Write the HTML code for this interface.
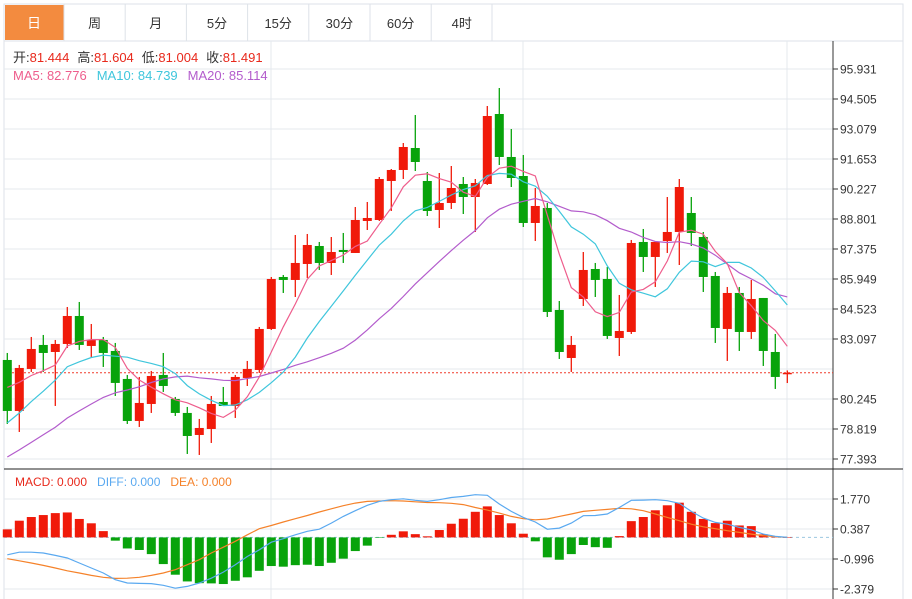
<!DOCTYPE html>
<html><head><meta charset="utf-8">
<style>
body{margin:0;background:#fff;width:912px;height:599px;overflow:hidden;font-family:"Liberation Sans","Noto Sans CJK SC",sans-serif;}
svg{display:block}
</style></head><body>
<svg id="c" width="912" height="599" xmlns="http://www.w3.org/2000/svg">
<g id="tabs">
<rect x="4" y="4" width="899" height="37" fill="#fff" stroke="#dde2e8"/>
<rect x="5" y="5" width="59" height="35" fill="#f38b3f"/>
<text x="34" y="28" font-size="14" fill="#fff" text-anchor="middle">日</text>
</g>
<g id="grid"></g>
<g id="main"></g>
<g id="macd"></g>
<g id="hdr" font-size="13">
<text x="13" y="62"><tspan fill="#333">开:</tspan><tspan fill="#e8291c">81.444</tspan><tspan fill="#333" dx="8">高:</tspan><tspan fill="#e8291c">81.604</tspan><tspan fill="#333" dx="8">低:</tspan><tspan fill="#e8291c">81.004</tspan><tspan fill="#333" dx="8">收:</tspan><tspan fill="#e8291c">81.491</tspan></text>
<text x="13" y="80"><tspan fill="#ee5d8c">MA5: 82.776</tspan><tspan fill="#3fc6dc" dx="10">MA10: 84.739</tspan><tspan fill="#b35ccc" dx="10">MA20: 85.114</tspan></text>
<text x="15" y="486" font-size="12"><tspan fill="#e8291c">MACD: 0.000</tspan><tspan fill="#5aa9f0" dx="10">DIFF: 0.000</tspan><tspan fill="#f5822a" dx="10">DEA: 0.000</tspan></text>
</g>
</svg>
<script>
const tabLabels=["周","月","5分","15分","30分","60分","4时"];
const priorCloses=[75,75.5,75.2,75.6,75.5,76,76.5,76.2,76.6,76.6,77,77.2,77.5,77.6,77.8,80.5,81,81.3,81.5];
const opens=[82.100,79.677,81.673,82.814,82.480,82.861,84.191,82.766,83.051,82.528,81.198,79.201,80.009,81.388,80.247,79.582,78.535,78.820,80.104,79.914,81.245,81.625,83.574,86.045,85.903,86.663,87.518,86.711,87.329,87.186,88.707,88.754,90.608,91.131,92.176,90.608,89.230,89.562,90.465,89.847,90.465,93.792,91.749,90.845,88.612,89.325,84.477,82.195,84.999,86.425,85.950,83.146,83.431,87.709,86.996,87.756,88.184,89.087,87.946,86.093,83.574,85.285,83.431,85.047,82.480,81.444];
const highs=[82.433,81.863,83.194,83.289,83.051,84.619,84.857,83.811,83.194,82.909,81.388,81.293,81.578,82.433,80.342,79.867,79.297,80.389,80.817,81.388,82.053,83.669,86.045,86.140,88.041,88.089,87.709,87.946,88.137,89.372,89.610,90.798,91.178,92.414,93.745,91.036,90.988,91.321,90.798,90.703,94.172,95.028,93.079,91.844,90.275,89.562,84.904,83.241,87.233,86.711,86.520,85.190,87.804,88.327,87.709,89.847,90.703,89.847,88.184,86.283,85.570,85.570,85.903,85.047,83.336,81.604];
const lows=[79.059,78.678,81.530,81.530,79.914,82.671,82.576,82.195,81.768,80.389,79.059,78.916,79.582,80.580,79.439,77.632,77.585,78.155,79.914,79.344,80.864,81.483,83.526,85.285,85.094,85.998,86.378,86.140,86.711,87.186,88.279,88.707,89.182,90.703,91.083,88.944,88.374,89.277,89.039,88.184,90.418,91.368,90.322,88.421,87.756,84.144,82.148,81.530,84.667,85.094,83.099,82.290,83.336,86.283,85.570,87.186,86.615,87.518,85.332,82.909,82.053,82.528,83.099,81.815,80.722,81.004];
const closes=[79.677,81.720,82.623,82.433,82.861,84.191,82.814,83.051,82.433,81.008,79.201,80.057,81.340,80.864,79.582,78.487,78.868,80.009,79.914,81.293,81.673,83.574,85.950,85.903,86.711,87.566,86.711,87.233,87.233,88.754,88.849,90.703,91.131,92.224,91.511,89.182,89.562,90.275,89.847,90.513,93.697,91.749,90.750,88.612,89.420,84.382,82.480,82.814,86.378,85.903,83.241,83.479,87.661,86.996,87.709,88.184,90.322,88.137,86.045,83.621,85.285,83.431,84.999,82.528,81.293,81.491];
const priceTicks=[95.931,94.505,93.079,91.653,90.227,88.801,87.375,85.949,84.523,83.097,80.245,78.819,77.393];
const macdHist=[0.37,0.77,0.94,1.03,1.12,1.15,0.85,0.65,0.29,-0.15,-0.51,-0.58,-0.77,-1.23,-1.72,-2.03,-2.11,-2.12,-2.15,-2.0,-1.84,-1.54,-1.32,-1.35,-1.28,-1.26,-1.32,-1.17,-0.98,-0.63,-0.38,-0.02,0.12,0.28,0.15,0.05,0.34,0.63,0.86,1.18,1.43,1.03,0.65,0.17,-0.18,-0.92,-1.03,-0.77,-0.35,-0.45,-0.48,0.06,0.75,0.94,1.25,1.48,1.6,1.18,0.85,0.66,0.77,0.55,0.52,0.14,0.03,0];
const diffVals=[-0.80,-0.68,-0.68,-0.72,-0.83,-0.95,-1.18,-1.41,-1.64,-1.95,-2.1,-2.12,-2.13,-2.21,-2.34,-2.26,-2.1,-1.88,-1.6,-1.26,-0.88,-0.57,-0.22,-0.06,0.12,0.28,0.38,0.66,0.97,1.23,1.48,1.66,1.74,1.78,1.71,1.66,1.74,1.84,1.89,1.97,1.94,1.54,1.2,0.92,0.71,0.38,0.43,0.66,1.0,1.01,1.08,1.38,1.71,1.72,1.74,1.69,1.57,1.2,0.89,0.69,0.61,0.46,0.35,0.15,0.05,0];
const deaVals=[-0.98,-1.08,-1.18,-1.29,-1.41,-1.54,-1.64,-1.75,-1.84,-1.89,-1.88,-1.84,-1.75,-1.64,-1.49,-1.26,-1.03,-0.72,-0.45,-0.18,0.12,0.40,0.55,0.71,0.86,1.01,1.17,1.32,1.46,1.58,1.66,1.68,1.69,1.68,1.64,1.61,1.60,1.57,1.51,1.38,1.26,1.12,0.97,0.86,0.81,0.85,0.97,1.08,1.2,1.25,1.29,1.34,1.32,1.23,1.08,0.92,0.77,0.61,0.49,0.4,0.31,0.23,0.15,0.08,0.03,0];
const macdTicks=[1.770,0.387,-0.996,-2.379];
const lastPrice=81.491;

const NS="http://www.w3.org/2000/svg";
function mk(parent,tag,attrs){const e=document.createElementNS(NS,tag);for(const k in attrs)e.setAttribute(k,attrs[k]);parent.appendChild(e);return e;}
const xOf=i=>7.3+12*i;
const yP=p=>69+(95.931-p)*(30/1.426);
const yM=v=>537.4-v*(30/1.383);
const RED="#f01a0a",GREEN="#08a30b";
const tabs=document.getElementById('tabs');
tabLabels.forEach((t,i)=>{
  const x0=64+61.2*i;
  const ln=mk(tabs,'line',{x1:x0,y1:4,x2:x0,y2:41,stroke:'#dde2e8'});
  
  
  const tx=mk(tabs,'text',{x:x0+30.6,y:28,'font-size':13,fill:'#333','text-anchor':'middle'});
  tx.textContent=t;
  
  
});
const sep=mk(tabs,'line',{x1:492,y1:4,x2:492,y2:41,stroke:'#dde2e8'});



const grid=document.getElementById('grid');
// frame
[[4,41,4,599],[903,41,903,599]].forEach(a=>{const l=mk(grid,'line',{x1:a[0],y1:a[1],x2:a[2],y2:a[3],stroke:'#dde2e8'});});
for(let k=0;k<14;k++){const y=69+30*k; if(y>460)break;
  const l=mk(grid,'line',{x1:4,y1:y,x2:833,y2:y,stroke:'#e4e9ee'});}
[271,523,787].forEach(x=>{const l=mk(grid,'line',{x1:x,y1:41,x2:x,y2:599,stroke:'#e4e9ee'});});
macdTicks.forEach(v=>{const l=mk(grid,'line',{x1:4,y1:yM(v),x2:833,y2:yM(v),stroke:'#e4e9ee'});});
const ax=mk(grid,'line',{x1:833,y1:41,x2:833,y2:599,stroke:'#333'});
const sepl=mk(grid,'line',{x1:4,y1:469,x2:903,y2:469,stroke:'#222'});
priceTicks.forEach(p=>{const y=yP(p);
  const t=mk(grid,'line',{x1:833,y1:y,x2:838,y2:y,stroke:'#333'});
  const tx=mk(grid,'text',{x:840,y:y+4.5,'font-size':12,fill:'#333'});tx.textContent=p.toFixed(3);});
macdTicks.forEach(v=>{const y=yM(v);
  const t=mk(grid,'line',{x1:833,y1:y,x2:838,y2:y,stroke:'#333'});
  const tx=mk(grid,'text',{x:840,y:y+4.5,'font-size':12,fill:'#333'});tx.textContent=v.toFixed(3);});

const main=document.getElementById('main');
const lp=mk(main,'line',{x1:4,y1:yP(lastPrice),x2:833,y2:yP(lastPrice),stroke:'#f03c2c','stroke-dasharray':'2,2'});

const lb=mk(main,'rect',{x:833,y:yP(lastPrice)-9.5,width:70,height:19,fill:'#f0150a'});

const lt=mk(main,'text',{x:840,y:yP(lastPrice)+4.5,'font-size':12,fill:'#fff'});lt.textContent=lastPrice.toFixed(3);


const all=priorCloses.concat(closes);
function ma(n){return closes.map((c,i)=>{const j=i+priorCloses.length;let s=0;for(let k=j-n+1;k<=j;k++)s+=all[k];return s/n;});}
closes.forEach((c,i)=>{
  const up=c>=opens[i];const col=up?RED:GREEN;const x=xOf(i);
  const w=mk(main,'line',{x1:x,y1:yP(highs[i]),x2:x,y2:yP(lows[i]),stroke:col,'stroke-width':1.3});
  
  const top=yP(Math.max(c,opens[i])),bot=yP(Math.min(c,opens[i]));
  const b=mk(main,'rect',{x:x-4.5,y:top,width:9,height:Math.max(1.5,bot-top),fill:col});
  
});
[[20,'#b35ccc','ma20-line'],[10,'#3fc6dc','ma10-line'],[5,'#ee5d8c','ma5-line']].forEach(([n,col,name])=>{
  const v=ma(n);const d=v.map((p,i)=>(i?'L':'M')+xOf(i).toFixed(1)+','+yP(p).toFixed(1)).join('');
  const pth=mk(main,'path',{d:d,fill:'none',stroke:col,'stroke-width':1.2});
  
});
const clip=mk(document.getElementById('c'),'clipPath',{id:'mclip'});mk(clip,'rect',{x:0,y:41,width:833,height:427});
main.setAttribute('clip-path','url(#mclip)');

const mg=document.getElementById('macd');
const z=mk(mg,'line',{x1:4,y1:yM(0),x2:833,y2:yM(0),stroke:'#9cc8e0','stroke-dasharray':'3,3'});

macdHist.forEach((v,i)=>{
  const y0=yM(0),y1=yM(v);
  const r=mk(mg,'rect',{x:xOf(i)-4.5,y:Math.min(y0,y1),width:9,height:Math.max(0.5,Math.abs(y1-y0)),fill:v>=0?RED:GREEN});
  
});
[[deaVals,'#f5822a','dea-line'],[diffVals,'#5aa9f0','diff-line']].forEach(([arr,col,name])=>{
  const d=arr.map((v,i)=>(i?'L':'M')+xOf(i).toFixed(1)+','+yM(v).toFixed(1)).join('');
  const pth=mk(mg,'path',{d:d,fill:'none',stroke:col,'stroke-width':1.2});
  
});
</script>
</body></html>
